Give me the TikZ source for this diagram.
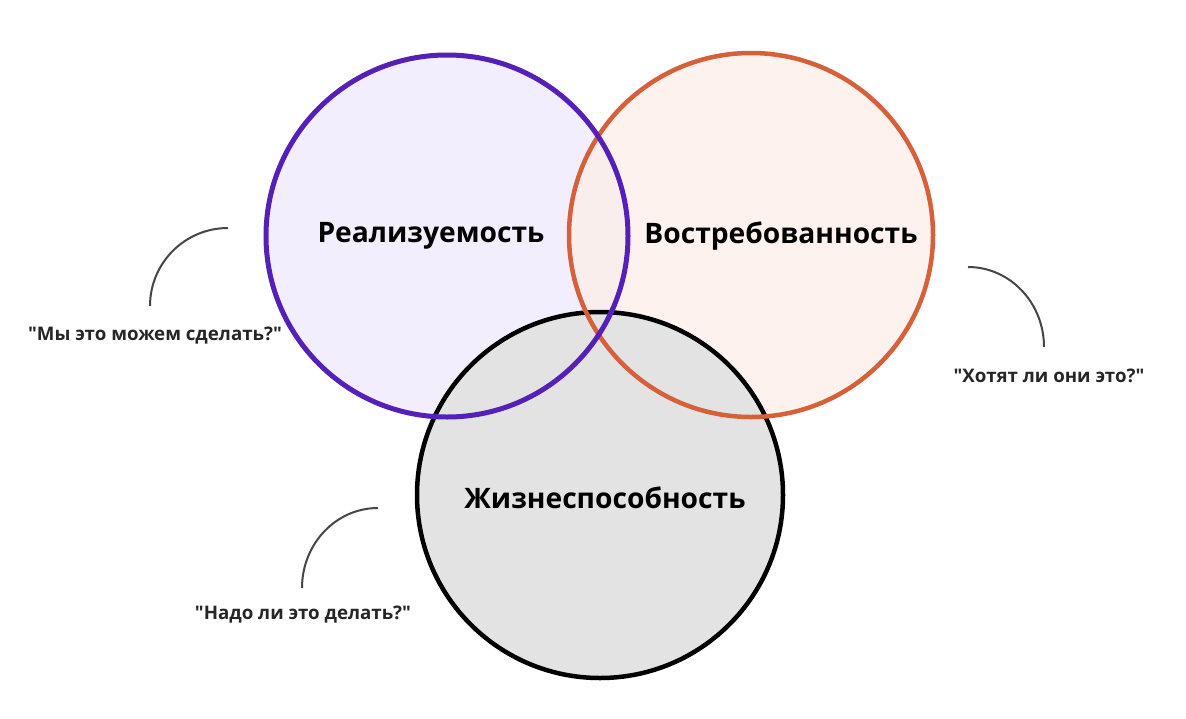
\documentclass[tikz,border=0pt]{standalone}
\usepackage{fontspec}
\setmainfont{Open Sans}
\newfontfamily\qfont{Open Sans}
\definecolor{violetline}{RGB}{84,32,184}
\definecolor{orangeline}{RGB}{214,96,58}
\definecolor{violetfill}{RGB}{242,238,253}
\definecolor{orangefill}{RGB}{253,238,232}
\definecolor{grayfill}{RGB}{227,227,227}
\definecolor{arcgray}{RGB}{70,70,70}
\tikzset{
  ring/.style={line width=4.5pt},
  biglabel/.style={font=\bfseries\fontsize{28.2}{32}\selectfont, inner sep=0pt},
  quotelabel/.style={font=\qfont\bfseries\fontsize{18.7}{22}\selectfont, inner sep=0pt, text=black!85},
  hook/.style={draw=arcgray, line width=2pt},
}
\begin{document}
\begin{tikzpicture}[x=1pt,y=-1pt]
\useasboundingbox[fill=white] (0,0) rectangle (1186,718);
% fills
\fill[violetfill] (447,236) circle[radius=181];
\fill[orangefill, opacity=0.75] (751,235) circle[radius=182];
\fill[grayfill] (600,495) circle[radius=183];
% strokes
\draw[ring, black] (600,495) circle[radius=183];
\draw[ring, orangeline] (751,235) circle[radius=182];
\draw[ring, violetline, line width=5pt] (447,236) circle[radius=181];
% labels
\node[biglabel] (real) at (431,236) {Реализуемость};
\node[biglabel] (vostr) at (781,236) {Востребованность};
\node[biglabel] (zhizn) at (605,498) {Жизнеспособность};
% quotes
\node[quotelabel] (q1) at (155,336) {"Мы это можем сделать?"};
\node[quotelabel] (q2) at (1049,376) {"Хотят ли они это?"};
\node[quotelabel] (q3) at (303,615) {"Надо ли это делать?"};
% hooks
\coordinate (h1a) at (228,228);
\draw[hook] (h1a) arc[start angle=90, end angle=180, x radius=78, y radius=-78];
\coordinate (h2a) at (968,267);
\draw[hook] (h2a) arc[start angle=90, end angle=0, x radius=76, y radius=-80];
\coordinate (h3a) at (378,508);
\draw[hook] (h3a) arc[start angle=90, end angle=180, x radius=76, y radius=-80];
\end{tikzpicture}
\end{document}
